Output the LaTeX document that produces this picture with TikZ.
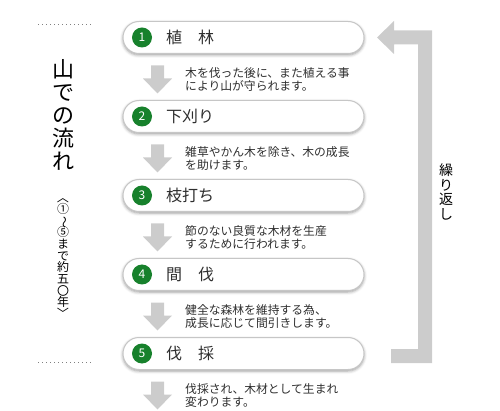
\documentclass[tikz,border=0pt]{standalone}
\usepackage{fontspec}
\setmainfont{Noto Sans CJK JP}
\usetikzlibrary{shadows.blur}
\definecolor{stepgreen}{HTML}{17812C}
\definecolor{arrowgray}{HTML}{CCCCCC}
\definecolor{pillline}{HTML}{C6C6C6}
\definecolor{textgray}{HTML}{2E2E2E}
\newcommand\tatechar[1]{\raisebox{0pt}[0.8em][0.1em]{\rotatebox[origin=c]{-90}{#1}}}
\begin{document}
\begin{tikzpicture}[x=1pt,y=-1pt,
  pill/.style={draw=pillline,line width=1pt,fill=white,rounded corners=16pt,
    minimum width=241pt,minimum height=32pt,
    blur shadow={shadow xshift=0pt,shadow yshift=-1.5pt,shadow blur radius=3pt,shadow opacity=40}},
  numdot/.style={circle,fill=stepgreen,text=white,minimum size=20pt,inner sep=0pt,font=\fontsize{12}{12}\selectfont},
  steplabel/.style={anchor=west,inner sep=0pt,text=textgray,font=\fontsize{16}{16}\selectfont},
  desc/.style={anchor=west,align=left,inner sep=0pt,text=textgray,font=\fontsize{11.8}{13.5}\selectfont},
  vtext/.style={align=center,inner sep=0pt,text=black}]
\useasboundingbox (0,0) rectangle (500,411);

% left title
\draw[gray,line width=1pt,dash pattern=on 1pt off 3pt] (38,25) -- (91,25);
\draw[gray,line width=1pt,dash pattern=on 1pt off 3pt] (38,362) -- (91,362);
\node[vtext,font=\fontsize{22}{23.2}\selectfont] (title) at (63,115) {山\\で\\の\\流\\れ};
\node[vtext,font=\fontsize{12}{11.6}\selectfont] (span) at (63,256)
  {\tatechar{〈}\\①\\\tatechar{〜}\\⑤\\ま\\で\\約\\五\\〇\\年\\\tatechar{〉}};

% steps
\foreach \lab/\txt [count=\k] in {植　林/{木を伐った後に、また植える事\\により山が守られます。},
    下刈り/{雑草やかん木を除き、木の成長\\を助けます。},
    枝打ち/{節のない良質な木材を生産\\するために行われます。},
    間　伐/{健全な森林を維持する為、\\成長に応じて間引きします。},
    伐　採/{伐採され、木材として生まれ\\変わります。}}{
  \pgfmathsetmacro{\y}{37.5+79*(\k-1)}
  \node[pill] (step\k) at (243.5,\y) {};
  \node[numdot] (num\k) at (142,\y) {\k};
  \node[steplabel] (lab\k) at (166,\y) {\lab};
  \fill[arrowgray] (151,\y+28) -- (164,\y+28) -- (164,\y+41) -- (172,\y+41)
    -- (157.5,\y+56) -- (143,\y+41) -- (151,\y+41) -- cycle;
  \node[desc] (desc\k) at (185,\y+42) {\txt};
}

% repeat bracket
\fill[arrowgray] (432,30.5) -- (432,363) -- (391,363) -- (391,349) -- (418,349)
  -- (418,44.5) -- (394,44.5) -- (394,54) -- (377,37.5) -- (394,21) -- (394,30.5) -- cycle;
\node[vtext,font=\fontsize{14}{14.8}\selectfont] (again) at (446,192) {繰\\り\\返\\し};
\end{tikzpicture}
\end{document}
